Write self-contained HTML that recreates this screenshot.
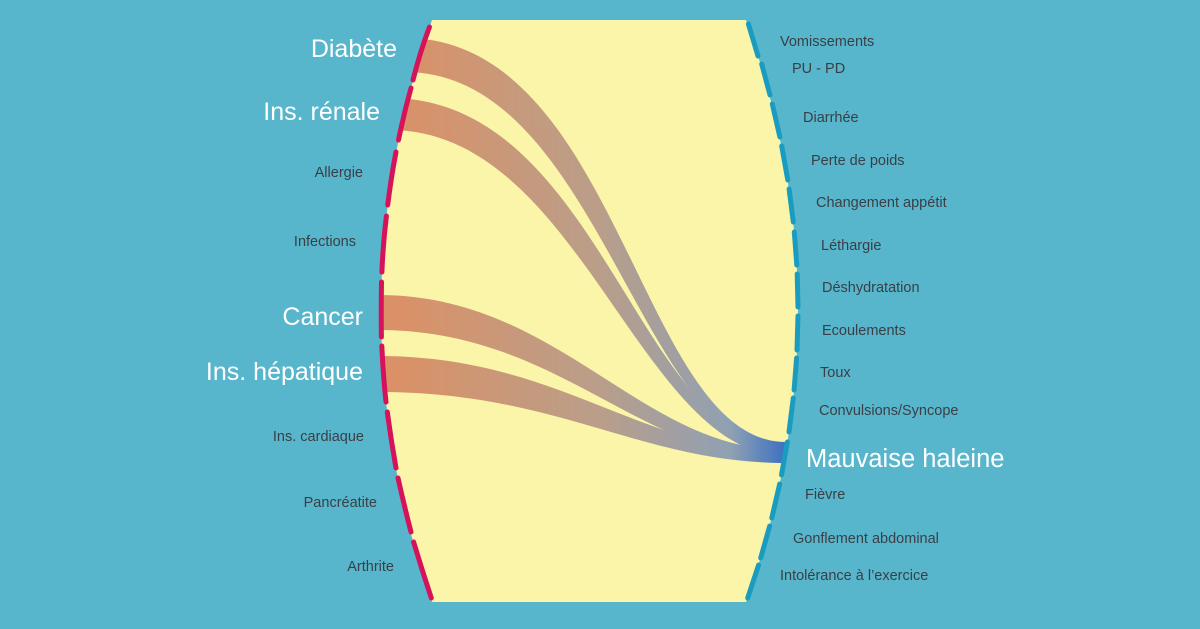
<!DOCTYPE html>
<html><head><meta charset="utf-8"><style>
html,body{margin:0;padding:0;background:#57B6CC;}
svg{display:block}
text{font-family:"Liberation Sans",sans-serif;}
.b{fill:#fff;font-size:25px;}
.s{fill:#3a3f46;font-size:14.5px;}
</style></head><body>
<svg width="1200" height="629" viewBox="0 0 1200 629" xmlns="http://www.w3.org/2000/svg">
<defs>
<linearGradient id="g" x1="400" y1="0" x2="790" y2="0" gradientUnits="userSpaceOnUse">
<stop offset="0" stop-color="#D98E66"/>
<stop offset="0.5" stop-color="#B99C88"/>
<stop offset="0.85" stop-color="#8C9EB4"/>
<stop offset="1" stop-color="#2F68C4"/>
</linearGradient>
<clipPath id="c"><path d="M432,20 L746,20 Q850,311 746,602 L432,602 Q330,311 432,20 Z"/></clipPath>
</defs>
<rect width="1200" height="629" fill="#57B6CC"/>
<path d="M432,20 L746,20 Q850,311 746,602 L432,602 Q330,311 432,20 Z" fill="#FAF5A8"/>
<g fill="url(#g)" opacity="0.97" clip-path="url(#c)">
<path d="M405,38 C620,38 640,442 786,442 L786,452 C640,452 600,72 405,72 Z"/>
<path d="M390,98 C600,98 640,446 786,446 L786,456 C640,456 580,130 390,130 Z"/>
<path d="M378,295 C560,295 640,450 786,450 L786,460 C640,460 560,330 378,330 Z"/>
<path d="M378,356 C560,356 640,452 786,452 L786,463 C640,463 560,392 378,392 Z"/>
</g>
<g stroke="#D6125A" stroke-width="5" stroke-linecap="round" fill="none">
<path d="M429.5,27 Q420,52 413,80"/>
<path d="M411,88 Q404,113 398.5,140"/>
<path d="M396,152 Q391,178 387.7,205"/>
<path d="M386.4,216 Q383,244 381.9,272"/>
<path d="M381.5,282 Q381,310 381.4,337"/>
<path d="M381.8,346 Q383,374 386,402"/>
<path d="M387.3,412 Q391,440 396,468"/>
<path d="M398,478 Q404,505 411,532"/>
<path d="M413.6,542 Q422,570 431.3,598"/>
</g>
<g stroke="#1A9CC0" stroke-width="5" stroke-linecap="round" fill="none">
<path d="M748.4,24 L758,56"/>
<path d="M761.7,64 L770,95"/>
<path d="M772.3,104 L779.9,137"/>
<path d="M781.7,146 L787.8,180"/>
<path d="M789.1,189 L793.3,222"/>
<path d="M794.3,232 L796.8,265"/>
<path d="M797.2,274 L798,307"/>
<path d="M798,316 L797,350"/>
<path d="M796.6,358 L794.1,390"/>
<path d="M793.3,398 L789,432"/>
<path d="M787.4,442 L781.5,475"/>
<path d="M779.7,484 L771.8,518"/>
<path d="M769.7,526 L760.7,558"/>
<path d="M758.6,565 L747.7,598"/>
</g>
<g text-anchor="end">
<text class="b" x="397" y="57">Diabète</text>
<text class="b" x="380" y="120">Ins. rénale</text>
<text class="s" x="363" y="177">Allergie</text>
<text class="s" x="356" y="246">Infections</text>
<text class="b" x="363" y="325">Cancer</text>
<text class="b" x="363" y="380">Ins. hépatique</text>
<text class="s" x="364" y="441">Ins. cardiaque</text>
<text class="s" x="377" y="507">Pancréatite</text>
<text class="s" x="394" y="571">Arthrite</text>
</g>
<g>
<text class="s" x="780" y="46">Vomissements</text>
<text class="s" x="792" y="73">PU - PD</text>
<text class="s" x="803" y="122">Diarrhée</text>
<text class="s" x="811" y="165">Perte de poids</text>
<text class="s" x="816" y="207">Changement appétit</text>
<text class="s" x="821" y="250">Léthargie</text>
<text class="s" x="822" y="292">Déshydratation</text>
<text class="s" x="822" y="335">Ecoulements</text>
<text class="s" x="820" y="377">Toux</text>
<text class="s" x="819" y="415">Convulsions/Syncope</text>
<text class="b" x="806" y="467" style="font-size:25.5px">Mauvaise haleine</text>
<text class="s" x="805" y="499">Fièvre</text>
<text class="s" x="793" y="543">Gonflement abdominal</text>
<text class="s" x="780" y="580">Intolérance à l’exercice</text>
</g>
</svg>
</body></html>
